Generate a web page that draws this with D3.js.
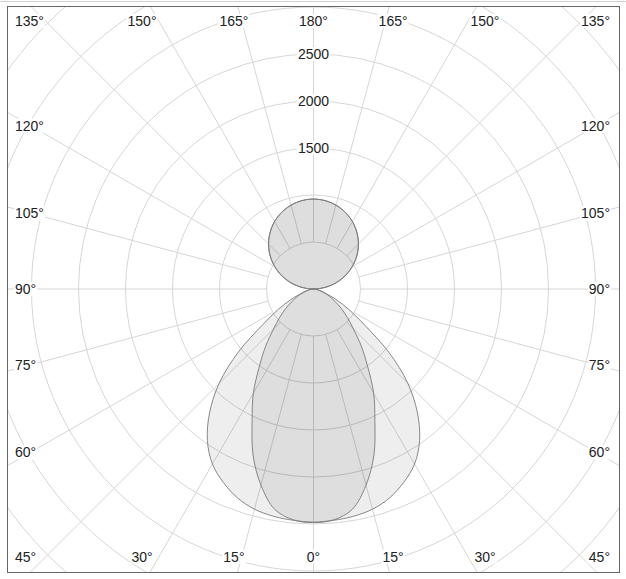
<!DOCTYPE html>
<html>
<head>
<meta charset="utf-8">
<script src="https://cdn.jsdelivr.net/npm/d3@7"></script>
<style>
  html, body { margin: 0; padding: 0; background: #fff; }
  svg { display: block; }
  text { font-family: "Liberation Sans", Arial, sans-serif; }
</style>
</head>
<body>
<svg id="chart" width="626" height="579"></svg>
<script>
// ---- data ----
const angles = [0,5,10,15,20,25,30,35,40,45,50,55,60,65,70,75,80,85,90,95,100,105,110,115,120,125,130,135,140,145,150,155,160,165,170,175,180];
// C0-C180 plane (wide, lighter)
const seriesA = [2480,2470,2455,2425,2365,2270,2150,1968,1720,1420,1045,655,430,265,140,80,40,15,0,80,165,248,327,404,479,549,615,677,733,784,829,867,899,924,942,953,957];
// C90-C270 plane (narrow)
const seriesB = [2485,2465,2380,2160,1880,1545,1280,1003,790,600,470,360,265,190,130,80,45,15,0,75,155,238,318,398,474,546,613,676,732,783,828,866,898,923,942,953,957];
const ringValues = [500,1000,1500,2000,2500,3000,3500,4000,4500];
const ringLabels = [1500,2000,2500];
const gridAngles = [0,15,30,45,60,75,90,105,120,135,150,165,180];

// ---- layout ----
const W = 626, H = 579;
const frame = {x0: 7.5, y0: 6.5, x1: 619.5, y1: 572.5};
const cx = (frame.x0 + frame.x1) / 2, cy = 289;
const r = d3.scaleLinear().domain([0, 2500]).range([0, 235]);

const svg = d3.select("#chart");

// outer light line at top
svg.append("line").attr("x1", 0).attr("x2", W).attr("y1", 1.5).attr("y2", 1.5)
  .attr("stroke", "#d0d0d0").attr("stroke-width", 1);

svg.append("defs").append("clipPath").attr("id", "clip")
  .append("rect").attr("x", frame.x0).attr("y", frame.y0)
  .attr("width", frame.x1 - frame.x0).attr("height", frame.y1 - frame.y0);

const g = svg.append("g").attr("clip-path", "url(#clip)");
const gridColor = "#d6d6d6";

// rings
g.selectAll("circle.ring").data(ringValues).join("circle")
  .attr("class", "ring")
  .attr("cx", cx).attr("cy", cy).attr("r", d => r(d))
  .attr("fill", "none").attr("stroke", gridColor).attr("stroke-width", 1);

// radial lines (both sides)
const spokes = [];
gridAngles.forEach(a => { spokes.push({a, side: 1}); if (a !== 0 && a !== 180) spokes.push({a, side: -1}); });
const rMax = r(5000);
g.selectAll("line.spoke").data(spokes).join("line")
  .attr("class", "spoke")
  .attr("x1", d => cx + d.side * r(500) * Math.sin(d.a * Math.PI / 180))
  .attr("y1", d => cy + r(500) * Math.cos(d.a * Math.PI / 180))
  .attr("x2", d => cx + d.side * rMax * Math.sin(d.a * Math.PI / 180))
  .attr("y2", d => cy + rMax * Math.cos(d.a * Math.PI / 180))
  .attr("stroke", gridColor).attr("stroke-width", 1);

// shapes
function closedPoints(vals) {
  const pts = [];
  for (let i = 0; i < angles.length; i++) pts.push([Math.PI - angles[i] * Math.PI / 180, r(vals[i])]);
  for (let i = angles.length - 2; i >= 1; i--) pts.push([-(Math.PI - angles[i] * Math.PI / 180), r(vals[i])]);
  return pts;
}
const radial = d3.lineRadial().angle(d => d[0]).radius(d => d[1]).curve(d3.curveCatmullRomClosed.alpha(0.5));

const shapes = svg.append("g").attr("transform", `translate(${cx},${cy})`);
[seriesA, seriesB].forEach(vals => {
  shapes.append("path")
    .attr("d", radial(closedPoints(vals)))
    .attr("fill", "rgba(0,0,0,0.065)")
    .attr("stroke", "#7a7a7a").attr("stroke-width", 0.9);
});

// frame
svg.append("rect").attr("x", frame.x0).attr("y", frame.y0)
  .attr("width", frame.x1 - frame.x0).attr("height", frame.y1 - frame.y0)
  .attr("fill", "none").attr("stroke", "#666").attr("stroke-width", 1);

// labels with white background
const labelG = svg.append("g");
function addLabel(x, y, txt, anchor) {
  const grp = labelG.append("g");
  const t = grp.append("text").attr("x", x).attr("y", y)
    .attr("text-anchor", anchor).attr("dominant-baseline", "central")
    .attr("font-size", 14).attr("fill", "#222").text(txt);
  const bb = t.node().getBBox();
  grp.insert("rect", "text").attr("x", bb.x - 1).attr("y", bb.y + 1)
    .attr("width", bb.width + 2).attr("height", bb.height - 2).attr("fill", "#fff");
}

ringLabels.forEach(v => addLabel(cx, cy - r(v), String(v), "middle"));

const LW = 283, LH = 297, leftX = 15, rightX = 610, topY = 21, botY = 556.5;
spokes.forEach(d => {
  const s = Math.sin(d.a * Math.PI / 180) * d.side, c = Math.cos(d.a * Math.PI / 180);
  const tSide = Math.abs(s) > 1e-9 ? LW / Math.abs(s) : Infinity;
  const tTB = Math.abs(c) > 1e-9 ? LH / Math.abs(c) : Infinity;
  const txt = d.a + "°";
  if (tSide <= tTB) {
    let y = cy + tSide * c;
    y = Math.max(topY, Math.min(botY, y));
    if (s < 0) addLabel(leftX, y, txt, "start"); else addLabel(rightX, y, txt, "end");
  } else {
    const x = cx + tTB * s;
    addLabel(x, c < 0 ? topY : botY, txt, "middle");
  }
});
</script>
</body>
</html>
